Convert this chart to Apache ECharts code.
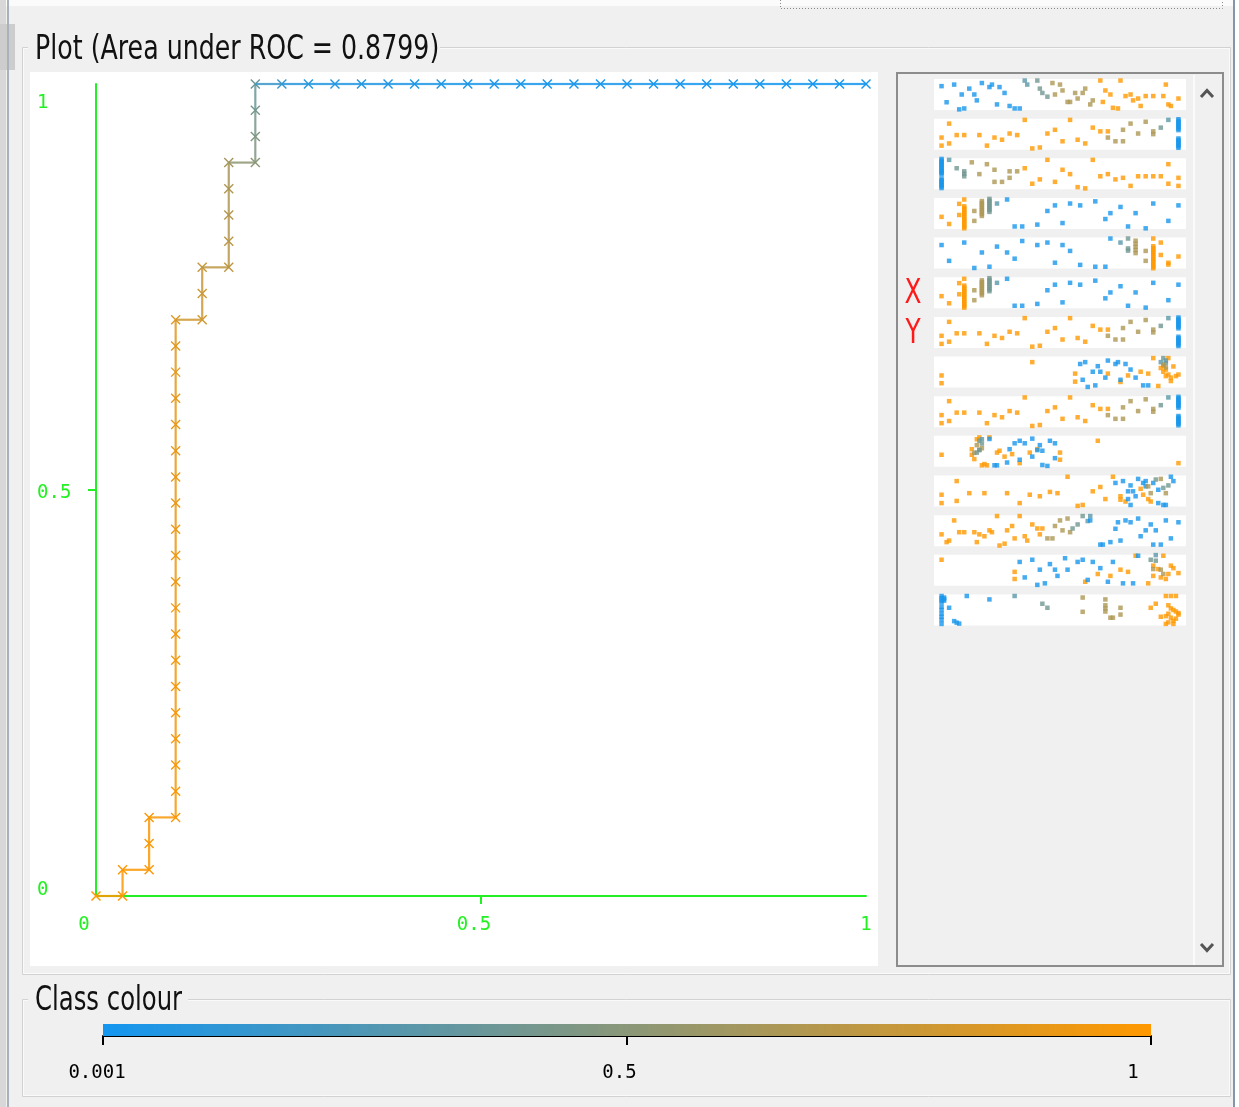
<!DOCTYPE html>
<html>
<head>
<meta charset="utf-8">
<script src="https://cdn.jsdelivr.net/npm/echarts@6/dist/echarts.min.js"></script>
<style>
  html, body { margin: 0; padding: 0; background: #f0f0f0; }
  #chart { width: 1239px; height: 1107px; }
</style>
</head>
<body>
<div id="chart"></div>
<script>
// ---- ROC curve: cumulative counts of false / true positives per threshold ----
const NEGATIVES = 29;
const POSITIVES = 31;
const falsePositives = [
  0, 1, 1, 2, 2, 2, 3,
  3, 3, 3, 3, 3, 3, 3, 3, 3, 3, 3, 3, 3, 3, 3, 3, 3, 3, 3,
  4, 4, 4,
  5, 5, 5, 5, 5,
  6, 6, 6, 6,
  7, 8, 9, 10, 11, 12, 13, 14, 15, 16, 17, 18, 19, 20, 21, 22, 23, 24, 25, 26, 27, 28, 29
];
const truePositives = [
  0, 0, 1, 1, 2, 3, 3,
  4, 5, 6, 7, 8, 9, 10, 11, 12, 13, 14, 15, 16, 17, 18, 19, 20, 21, 22,
  22, 23, 24,
  24, 25, 26, 27, 28,
  28, 29, 30, 31,
  31, 31, 31, 31, 31, 31, 31, 31, 31, 31, 31, 31, 31, 31, 31, 31, 31, 31, 31, 31, 31, 31, 31
];
const thresholds = [
  1, 0.995, 0.99, 0.985, 0.98, 0.975, 0.97,
  0.965, 0.96, 0.955, 0.95, 0.945, 0.94, 0.935, 0.93, 0.925, 0.92, 0.915, 0.91, 0.905, 0.9, 0.895, 0.89, 0.88, 0.87, 0.86,
  0.8, 0.78, 0.76,
  0.72, 0.7, 0.68, 0.66, 0.62,
  0.52, 0.46, 0.42, 0.36,
  0.16, 0.08, 0.06, 0.055, 0.05, 0.045, 0.04, 0.035, 0.03, 0.027, 0.024, 0.021, 0.018, 0.015, 0.012,
  0.01, 0.008, 0.006, 0.004, 0.003, 0.002, 0.0015, 0.001
];
const rocTicks = [0, 0.5, 1];
const AUC_TEXT = 'Plot (Area under ROC = 0.8799)';

// ---- class colour scale ----
const classTicks = [0.001, 0.5, 1];
const CLASS_MIN = 0.001, CLASS_MAX = 1;

// class values used by the attribute strips
const B = 0.02, BG = 0.3, G = 0.4, T = 0.65, O = 1;

// ---- attribute strips: [attribute value (scaled), jitter, class value] ----
const stripInstance = [
  [.03,.23,B],[.08,.18,B],[.05,.75,B],[.11,.5,B],[.14,.31,B],[.16,.5,B],[.17,.69,B],[.19,.13,B],[.22,.26,B],
  [.23,.18,B],[.26,.26,B],[.28,.45,B],[.25,.82,B],[.3,.87,B],[.32,.95,B],[.34,.95,B],[.12,.95,B],[.1,.98,B],
  [.36,.05,BG],[.37,.18,BG],[.41,.05,G],[.42,.31,G],[.43,.45,G],[.45,.57,G],
  [.47,.13,T],[.5,.18,T],[.48,.5,T],[.51,.37,T],[.53,.74,T],[.54,.74,T],[.56,.45,T],[.57,.63,T],[.59,.45,T],
  [.6,.31,T],[.62,.82,T],[.63,.69,T],
  [.66,.05,O],[.68,.37,O],[.7,.5,O],[.67,.74,O],[.71,.93,O],[.73,.95,O],[.74,.05,O],[.76,.55,O],[.78,.5,O],
  [.79,.69,O],[.81,.63,O],[.82,.87,O],[.84,.55,O],[.87,.55,O],[.91,.55,O],[.92,.18,O],[.93,.82,O],[.94,.87,O],[.97,.63,O]
];
const stripTruePos = [
  [.06,.16,O],[.03,.61,O],[.03,.87,O],[.06,.8,O],[.09,.53,O],[.12,.53,O],[.18,.53,O],[.21,.87,O],[.24,.61,O],
  [.27,.68,O],[.3,.48,O],[.33,.53,O],[.36,.04,O],[.39,.96,O],[.42,.93,O],[.45,.48,O],[.48,.36,O],[.51,.73,O],
  [.54,.04,O],[.57,.68,O],[.6,.8,O],[.63,.29,O],[.66,.41,O],[.69,.41,O],
  [.69,.61,T],[.72,.73,T],[.75,.73,T],[.75,.36,T],[.78,.16,T],[.81,.48,T],[.84,.1,T],[.87,.41,T],[.87,.5,T],
  [.9,.29,G],[.93,.04,BG],
  [.97,.02,B],[.97,.07,B],[.97,.12,B],[.97,.17,B],[.97,.22,B],[.97,.27,B],[.97,.32,B],[.97,.37,B],
  [.97,.64,B],[.97,.69,B],[.97,.74,B],[.97,.79,B],[.97,.84,B],[.97,.89,B],[.97,.94,B]
];
const stripFalseNeg = [
  [.03,.02,B],[.03,.07,B],[.03,.12,B],[.03,.17,B],[.03,.22,B],[.03,.27,B],[.03,.32,B],[.03,.37,B],[.03,.42,B],
  [.03,.47,B],[.03,.52,B],[.03,.66,B],[.03,.71,B],[.03,.76,B],[.03,.81,B],[.03,.86,B],[.03,.91,B],[.03,.96,B],
  [.06,.05,BG],[.09,.32,G],[.12,.42,G],[.12,.5,G],[.12,.58,G],
  [.15,.13,T],[.18,.51,T],[.21,.19,T],[.24,.37,T],[.24,.76,T],[.27,.76,T],[.3,.42,T],[.3,.63,T],[.33,.42,T],[.36,.32,O],
  [.39,.82,O],[.42,.68,O],[.45,.05,O],[.48,.76,O],[.51,.37,O],[.54,.51,O],[.57,.93,O],[.6,.97,O],[.63,.05,O],
  [.66,.58,O],[.69,.51,O],[.72,.68,O],[.75,.63,O],[.78,.89,O],[.81,.58,O],[.84,.58,O],[.87,.58,O],[.9,.58,O],
  [.93,.19,O],[.93,.82,O],[.97,.63,O],[.97,.89,O]
];
const stripFalsePos = [
  [.03,.61,O],[.06,.84,O],[.1,.19,O],[.1,.55,O],[.12,.05,O],
  [.12,.27,O],[.12,.33,O],[.12,.39,O],[.12,.45,O],[.12,.51,O],[.12,.57,O],[.12,.63,O],[.12,.69,O],[.12,.75,O],
  [.12,.81,O],[.12,.87,O],[.12,.93,O],[.12,.98,O],
  [.16,.42,T],[.16,.74,T],
  [.19,.1,T],[.19,.16,T],[.19,.22,T],[.19,.28,T],[.19,.34,T],[.19,.4,T],[.19,.46,T],[.19,.52,T],[.19,.58,T],
  [.22,.03,G],[.22,.09,G],[.22,.15,G],[.22,.21,G],[.22,.27,G],[.22,.33,G],[.22,.39,G],[.22,.45,G],
  [.25,.18,BG],
  [.29,.05,B],[.32,.92,B],[.35,.92,B],[.41,.86,B],[.45,.42,B],[.48,.24,B],[.51,.81,B],[.54,.18,B],[.58,.24,B],
  [.64,.11,B],[.68,.68,B],[.7,.49,B],[.74,.29,B],[.77,.92,B],[.8,.49,B],[.84,.98,B],[.87,.18,B],[.93,.74,B],[.97,.24,B]
];
const stripTrueNeg = [
  [.03,.24,B],[.06,.75,B],[.12,.16,B],[.16,.98,B],[.19,.48,B],[.22,.94,B],[.25,.29,B],[.29,.48,B],[.32,.68,B],
  [.35,.11,B],[.41,.24,B],[.45,.16,B],[.48,.81,B],[.51,.24,B],[.54,.43,B],[.58,.88,B],[.64,.94,B],[.68,.94,B],
  [.7,.03,B],[.74,.16,BG],
  [.77,.03,G],[.77,.35,G],[.77,.42,G],
  [.8,.1,T],[.8,.2,T],[.8,.3,T],[.8,.4,T],[.8,.5,T],[.84,.43,T],[.84,.75,T],
  [.87,.03,O],[.87,.28,O],[.87,.34,O],[.87,.4,O],[.87,.46,O],[.87,.52,O],[.87,.58,O],[.87,.64,O],[.87,.7,O],
  [.87,.76,O],[.87,.82,O],[.87,.88,O],[.87,.94,O],[.87,.99,O],
  [.9,.16,O],[.9,.56,O],[.93,.81,O],[.93,.87,O],[.97,.61,O]
];
const stripPrecision = [
  [.03,.61,O],[.03,.86,O],[.39,.18,O],[.56,.55,O],[.56,.81,O],[.69,.55,O],[.74,.82,O],[.77,.61,O],[.82,.49,O],
  [.85,.55,O],[.87,.05,O],[.89,.95,O],[.93,.05,O],[.9,.37,O],[.91,.49,O],[.92,.42,O],[.93,.58,O],[.94,.68,O],
  [.94,.79,O],[.95,.32,O],[.96,.63,O],[.97,.58,O],[.92,.63,O],[.91,.3,O],
  [.58,.24,B],[.6,.18,B],[.63,.49,B],[.65,.31,B],[.66,.49,B],[.69,.13,B],[.72,.24,B],[.73,.18,B],[.76,.24,B],
  [.78,.42,B],[.68,.68,B],[.59,.75,B],[.61,.98,B],[.64,.93,B],[.74,.75,B],[.8,.68,B],[.83,.93,B],[.85,.93,B],
  [.9,.18,BG],[.91,.05,G],[.92,.21,G],[.92,.13,BG],
  [.91,.26,T],[.92,.35,T]
];
const stripFallout = [
  [.03,.61,O],[.15,.43,O],[.15,.61,O],[.16,.75,O],[.17,.11,O],[.18,.05,O],[.2,.91,O],[.22,.05,O],[.25,.54,O],
  [.26,.48,O],[.28,.67,O],[.31,.59,O],[.38,.54,O],[.41,.43,O],[.34,.88,O],[.5,.54,O],[.5,.77,O],[.65,.16,O],
  [.97,.88,O],[.19,.95,O],[.21,.95,O],
  [.17,.3,T],[.18,.45,T],[.16,.55,T],[.19,.4,T],
  [.18,.16,G],[.19,.11,BG],[.18,.46,G],[.17,.54,G],[.19,.25,G],
  [.22,.1,B],[.24,.95,B],[.25,.95,B],[.29,.86,B],[.3,.43,B],[.32,.24,B],[.34,.16,B],[.36,.24,B],[.39,.09,B],
  [.41,.46,B],[.42,.3,B],[.39,.67,B],[.43,.48,B],[.46,.16,B],[.48,.24,B],[.48,.72,B],[.34,.77,B],[.43,.94,B],[.45,.97,B]
];
const stripFMeasure = [
  [.03,.62,O],[.03,.89,O],[.09,.18,O],[.09,.82,O],[.14,.57,O],[.2,.57,O],[.29,.57,O],[.34,.89,O],[.38,.62,O],
  [.42,.67,O],[.46,.53,O],[.49,.57,O],[.53,.04,O],[.57,.98,O],[.59,.95,O],[.63,.51,O],[.66,.37,O],[.68,.76,O],
  [.71,.04,O],[.74,.67,O],[.74,.78,O],[.76,.84,O],[.82,.43,O],[.83,.62,O],[.85,.76,O],[.86,.84,O],
  [.72,.24,B],[.75,.18,B],[.78,.32,B],[.79,.51,B],[.77,.51,B],[.81,.11,B],[.83,.24,B],[.84,.18,B],[.84,.35,B],
  [.87,.24,B],[.89,.46,B],[.8,.67,B],[.77,.76,B],[.78,.95,B],[.89,.89,B],[.91,.95,B],[.92,.95,B],[.94,.04,B],[.95,.18,B],
  [.85,.35,T],[.92,.57,T],[.86,.57,T],[.9,.11,T],
  [.88,.13,G],[.93,.32,G],[.91,.4,G]
];
const stripSampleSize = [
  [.03,.62,O],[.05,.87,O],[.06,.82,O],[.08,.17,O],[.1,.55,O],[.12,.55,O],[.16,.55,O],[.17,.87,O],[.18,.62,O],
  [.2,.68,O],[.22,.49,O],[.23,.55,O],[.25,.03,O],[.26,.98,O],[.28,.92,O],[.29,.49,O],[.31,.35,O],[.32,.75,O],
  [.34,.03,O],[.36,.68,O],[.37,.82,O],[.39,.3,O],[.41,.43,O],[.42,.62,O],[.43,.43,O],
  [.45,.75,T],[.47,.75,T],[.48,.35,T],[.5,.17,T],[.51,.49,T],[.53,.11,T],[.54,.55,T],
  [.55,.43,G],[.57,.3,G],[.59,.03,G],[.62,.03,BG],[.61,.19,BG],
  [.62,.17,B],[.66,.95,B],[.67,.95,B],[.7,.87,B],[.72,.44,B],[.73,.23,B],[.74,.82,B],[.76,.17,B],[.78,.23,B],
  [.81,.11,B],[.82,.68,B],[.84,.49,B],[.86,.3,B],[.87,.95,B],[.88,.49,B],[.9,.95,B],[.92,.17,B],[.94,.75,B],[.97,.23,B]
];
const stripLift = [
  [.03,.16,O],[.32,.55,O],[.32,.78,O],[.6,.87,O],[.65,.62,O],[.7,.68,O],[.74,.48,O],[.77,.55,O],[.8,.03,O],
  [.85,.92,O],[.87,.68,O],[.9,.73,O],[.91,.03,O],[.92,.78,O],[.93,.62,O],[.94,.35,O],[.95,.43,O],[.97,.59,O],
  [.87,.35,O],[.89,.46,O],
  [.34,.23,B],[.39,.16,B],[.36,.73,B],[.42,.48,B],[.41,.97,B],[.44,.92,B],[.46,.3,B],[.48,.48,B],[.49,.68,B],
  [.52,.11,B],[.53,.48,B],[.57,.23,B],[.59,.16,B],[.61,.81,B],[.63,.23,B],[.66,.43,B],[.69,.87,B],[.71,.23,B],
  [.75,.92,B],[.79,.92,B],[.81,.03,B],
  [.86,.16,G],[.88,.01,BG],[.88,.19,G],
  [.9,.48,T],[.91,.62,T],[.87,.46,T]
];
const stripThreshold = [
  [.03,.05,B],[.03,.12,B],[.03,.19,B],[.03,.26,B],[.04,.1,B],[.04,.2,B],[.03,.4,B],[.03,.5,B],[.03,.62,B],
  [.03,.72,B],[.03,.82,B],[.03,.95,B],[.06,.43,B],[.08,.86,B],[.09,.91,B],[.1,.94,B],[.13,.05,B],[.22,.16,B],[.04,.15,B],
  [.32,.05,BG],[.43,.3,G],[.45,.43,G],
  [.59,.1,T],[.59,.56,T],[.68,.16,T],[.68,.35,T],[.68,.45,T],[.68,.55,T],[.7,.75,T],[.71,.75,T],[.74,.43,T],[.74,.65,T],
  [.86,.43,O],[.88,.3,O],[.92,.05,O],[.94,.05,O],[.96,.05,O],[.93,.35,O],[.94,.45,O],[.95,.5,O],[.96,.55,O],
  [.97,.6,O],[.93,.62,O],[.92,.7,O],[.94,.75,O],[.96,.78,O],[.95,.85,O],[.93,.9,O],[.92,.95,O],[.95,.95,O],
  [.97,.65,O],[.9,.72,O]
];
// strip order: instance, TP, FN, FP, TN, FP rate, TP rate, precision, recall,
// fallout, F-measure, sample size, lift, threshold
const stripRows = [
  stripInstance, stripTruePos, stripFalseNeg, stripFalsePos, stripTrueNeg, stripFalsePos, stripTruePos,
  stripPrecision, stripTruePos, stripFallout, stripFMeasure, stripSampleSize, stripLift, stripThreshold
];

// ---- styling helpers ----
const LOW_RGB = [20, 150, 240];
const HIGH_RGB = [255, 152, 0];
const GREEN = '#22f022';
const MONO = "'DejaVu Sans Mono', monospace";
const SANS = "'DejaVu Sans', 'Liberation Sans', sans-serif";

function classColour(v) {
  const t = Math.max(0, Math.min(1, (v - CLASS_MIN) / (CLASS_MAX - CLASS_MIN)));
  const c = LOW_RGB.map((lo, k) => Math.round(lo + (HIGH_RGB[k] - lo) * t));
  return 'rgb(' + c.join(',') + ')';
}

const rocFpr = falsePositives.map(v => v / NEGATIVES);
const rocTpr = truePositives.map(v => v / POSITIVES);
const rocRows = rocFpr.map((x, i) => [x, rocTpr[i], thresholds[i]]);

const chart = echarts.init(document.getElementById('chart'), null, { renderer: 'canvas' });

const ROC_GRID = { left: 96, top: 84, width: 770, height: 812 };
const STRIP_LEFT = 934, STRIP_TOP = 79, STRIP_PITCH = 39.65, STRIP_W = 252, STRIP_H = 31;

const grids = [ROC_GRID];
const xAxes = [];
const yAxes = [];
const series = [];

// ROC axes
xAxes.push({
  gridIndex: 0, type: 'value', min: 0, max: 1,
  splitLine: { show: false },
  axisLine: { lineStyle: { color: GREEN, width: 2 } },
  axisTick: { customValues: [0.5], length: 8, lineStyle: { color: GREEN, width: 2 } },
  axisLabel: {
    customValues: rocTicks, margin: 20, color: GREEN, fontFamily: MONO, fontSize: 19,
    formatter: v => v === 0 ? '{a|0}' : (v === 1 ? '{c|1}' : '{b|' + v + '}'),
    rich: {
      a: { padding: [0, 24, 0, 0], color: GREEN, fontFamily: MONO, fontSize: 19 },
      b: { padding: [0, 14, 0, 0], color: GREEN, fontFamily: MONO, fontSize: 19 },
      c: { color: GREEN, fontFamily: MONO, fontSize: 19 }
    }
  }
});
yAxes.push({
  gridIndex: 0, type: 'value', min: 0, max: 1,
  splitLine: { show: false },
  axisLine: { lineStyle: { color: GREEN, width: 2 } },
  axisTick: { customValues: [0.5], length: 8, lineStyle: { color: GREEN, width: 2 } },
  axisLabel: {
    customValues: rocTicks, margin: 59, align: 'left', color: GREEN, fontFamily: MONO, fontSize: 19,
    formatter: v => v === 0 ? '{a|0}' : (v === 1 ? '{c|1}' : '{b|' + v + '}'),
    rich: {
      a: { padding: [0, 0, 12, 0], color: GREEN, fontFamily: MONO, fontSize: 19 },
      b: { padding: [6, 0, 0, 0], color: GREEN, fontFamily: MONO, fontSize: 19 },
      c: { padding: [38, 0, 0, 0], color: GREEN, fontFamily: MONO, fontSize: 19 }
    }
  }
});

series.push({
  type: 'custom',
  xAxisIndex: 0, yAxisIndex: 0,
  data: rocRows,
  renderItem: function (params, api) {
    const i = params.dataIndex;
    const p = api.coord([api.value(0), api.value(1)]);
    const col = classColour(api.value(2));
    const children = [];
    if (i > 0) {
      const q = api.coord([rocRows[i - 1][0], rocRows[i - 1][1]]);
      children.push({ type: 'line', shape: { x1: q[0], y1: q[1], x2: p[0], y2: p[1] },
        style: { stroke: col, lineWidth: 2.2, opacity: 0.85 } });
    }
    const s = 4.5;
    children.push({ type: 'line', shape: { x1: p[0] - s, y1: p[1] - s, x2: p[0] + s, y2: p[1] + s },
      style: { stroke: col, lineWidth: 1.4 } });
    children.push({ type: 'line', shape: { x1: p[0] - s, y1: p[1] + s, x2: p[0] + s, y2: p[1] - s },
      style: { stroke: col, lineWidth: 1.4 } });
    return { type: 'group', children: children };
  }
});

// attribute strips
stripRows.forEach((rows, i) => {
  const gi = i + 1;
  grids.push({
    left: STRIP_LEFT, top: STRIP_TOP + i * STRIP_PITCH, width: STRIP_W, height: STRIP_H,
    show: true, backgroundColor: '#ffffff', borderWidth: 0
  });
  xAxes.push({ gridIndex: gi, type: 'value', min: 0, max: 1, show: false });
  yAxes.push({ gridIndex: gi, type: 'value', min: 0, max: 1, inverse: true, show: false });
  series.push({
    type: 'scatter', xAxisIndex: gi, yAxisIndex: gi,
    data: rows, symbol: 'rect', symbolSize: 4.5,
    itemStyle: { color: p => classColour(p.data[2]) },
    silent: true
  });
});

// class colour bar
const BAR_GI = stripRows.length + 1;
grids.push({ left: 103, top: 1024, width: 1048, height: 12 });
xAxes.push({
  gridIndex: BAR_GI, type: 'value', min: CLASS_MIN, max: CLASS_MAX, offset: 10,
  splitLine: { show: false },
  axisLine: { lineStyle: { color: '#000', width: 2 } },
  axisTick: { customValues: classTicks, length: 9, lineStyle: { color: '#000', width: 2 } },
  axisLabel: {
    customValues: classTicks, margin: 18, color: '#000', fontFamily: MONO, fontSize: 19,
    formatter: v => Math.abs(v - 0.001) < 1e-9 ? '{a|0.001}' : (v === 1 ? '{c|1}' : '{b|' + v + '}'),
    rich: {
      a: { padding: [0, 12, 0, 0], color: '#000', fontFamily: MONO, fontSize: 19 },
      b: { padding: [0, 14, 0, 0], color: '#000', fontFamily: MONO, fontSize: 19 },
      c: { padding: [0, 36, 0, 0], color: '#000', fontFamily: MONO, fontSize: 19 }
    }
  }
});
yAxes.push({ gridIndex: BAR_GI, type: 'value', min: 0, max: 1, show: false });
series.push({
  type: 'custom', xAxisIndex: BAR_GI, yAxisIndex: BAR_GI,
  data: [[CLASS_MIN, CLASS_MAX]],
  renderItem: function (params, api) {
    const a = api.coord([api.value(0), 0]);
    const b = api.coord([api.value(1), 1]);
    return {
      type: 'rect',
      shape: { x: a[0], y: b[1], width: b[0] - a[0], height: a[1] - b[1] },
      style: {
        fill: new echarts.graphic.LinearGradient(0, 0, 1, 0, [
          { offset: 0, color: classColour(CLASS_MIN) },
          { offset: 0.5, color: classColour((CLASS_MIN + CLASS_MAX) / 2) },
          { offset: 1, color: classColour(CLASS_MAX) }
        ])
      }
    };
  }
});

// window chrome, panels and captions
const graphics = [
  { type: 'rect', shape: { x: 0, y: 0, width: 1239, height: 6 }, style: { fill: '#fbfbfb' } },
  { type: 'rect', shape: { x: 0, y: 0, width: 6, height: 1107 }, style: { fill: '#d8d8d8' } },
  { type: 'rect', shape: { x: 0, y: 24, width: 15, height: 46 }, style: { fill: '#cdcdcd' } },
  { type: 'line', shape: { x1: 8, y1: 0, x2: 8, y2: 1107 }, style: { stroke: '#a9b2bc', lineWidth: 2 } },
  { type: 'rect', shape: { x: 1235, y: 0, width: 4, height: 1107 }, style: { fill: '#ffffff' } },
  { type: 'line', shape: { x1: 1234, y1: 0, x2: 1234, y2: 1107 }, style: { stroke: '#8396aa', lineWidth: 2 } },
  { type: 'polyline', shape: { points: [[780.5, 0], [780.5, 8.5], [1222.5, 8.5], [1222.5, 0]] },
    style: { stroke: '#8a8a8a', lineWidth: 1, lineDash: [1, 2], fill: null } },

  // plot panel groove + title
  { type: 'rect', shape: { x: 22.5, y: 47.5, width: 1208, height: 927 }, style: { stroke: '#d2d2d2', fill: null, lineWidth: 1 } },
  { type: 'rect', shape: { x: 23.5, y: 48.5, width: 1206, height: 925 }, style: { stroke: '#fafafa', fill: null, lineWidth: 1 } },
  { type: 'rect', shape: { x: 28, y: 34, width: 412, height: 30 }, style: { fill: '#f0f0f0' } },
  { type: 'text', x: 35, y: 50, scaleX: 0.815, scaleY: 1.08,
    style: { text: AUC_TEXT, font: '31px ' + SANS, fill: '#111', verticalAlign: 'middle' } },
  { type: 'rect', shape: { x: 30, y: 72, width: 848, height: 894 }, style: { fill: '#ffffff' } },

  // attribute panel frame, scroll bar
  { type: 'rect', shape: { x: 897, y: 73, width: 326, height: 893 }, style: { stroke: '#8c8c8c', fill: null, lineWidth: 2 } },
  { type: 'line', shape: { x1: 1194, y1: 75, x2: 1194, y2: 965 }, style: { stroke: '#fafafa', lineWidth: 2 } },
  { type: 'polyline', shape: { points: [[1201, 97], [1207, 90.5], [1213, 97]] }, style: { stroke: '#555', lineWidth: 3, fill: null } },
  { type: 'polyline', shape: { points: [[1201, 944], [1207, 950.5], [1213, 944]] }, style: { stroke: '#555', lineWidth: 3, fill: null } },
  { type: 'text', x: 913, y: 294, scaleX: 0.75,
    style: { text: 'X', font: '33px ' + SANS, fill: '#ff1a1a', align: 'center', verticalAlign: 'middle' } },
  { type: 'text', x: 913, y: 334, scaleX: 0.75,
    style: { text: 'Y', font: '33px ' + SANS, fill: '#ff1a1a', align: 'center', verticalAlign: 'middle' } },

  // class colour panel
  { type: 'rect', shape: { x: 22.5, y: 999.5, width: 1208, height: 97 }, style: { stroke: '#d2d2d2', fill: null, lineWidth: 1 } },
  { type: 'rect', shape: { x: 23.5, y: 1000.5, width: 1206, height: 95 }, style: { stroke: '#fafafa', fill: null, lineWidth: 1 } },
  { type: 'rect', shape: { x: 28, y: 986, width: 160, height: 30 }, style: { fill: '#f0f0f0' } },
  { type: 'text', x: 35, y: 1001, scaleX: 0.785, scaleY: 1.08,
    style: { text: 'Class colour', font: '31px ' + SANS, fill: '#111', verticalAlign: 'middle' } }
];

chart.setOption({
  backgroundColor: '#f0f0f0',
  animation: false,
  graphic: { elements: graphics.map(g => Object.assign({ silent: true, z: 0 }, g)) },
  grid: grids,
  xAxis: xAxes,
  yAxis: yAxes,
  series: series
});
</script>
</body>
</html>
